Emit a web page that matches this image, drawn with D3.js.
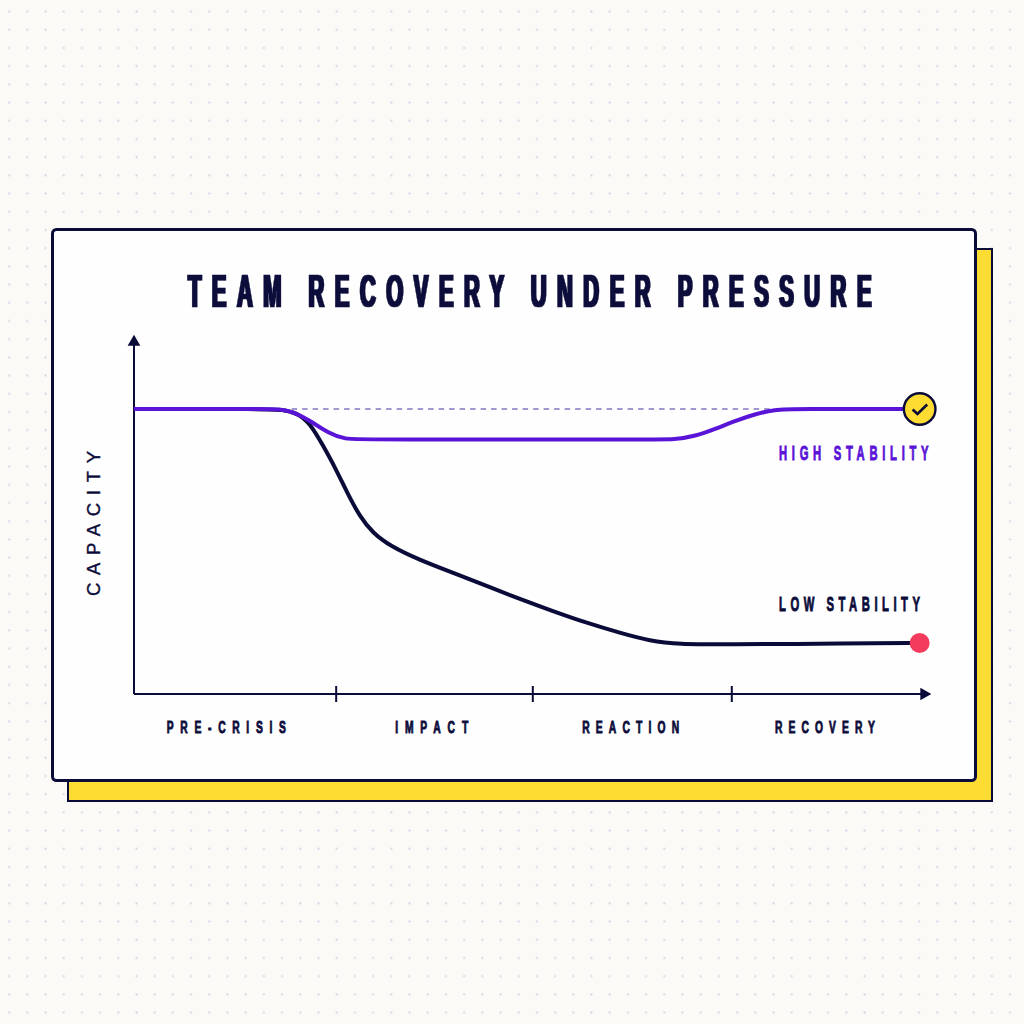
<!DOCTYPE html>
<html>
<head>
<meta charset="utf-8">
<script src="https://cdn.jsdelivr.net/npm/d3@7"></script>
<style>
html,body{margin:0;padding:0;background:#fbfaf7;}
svg{display:block;}
</style>
</head>
<body>
<svg id="chart" width="1024" height="1024"></svg>
<script>
// Capacity over the four crisis phases, on a 0-100 scale for both axes.
const titleText = "TEAM RECOVERY UNDER PRESSURE";
const yAxisLabel = "CAPACITY";
const phaseLabels = ["PRE-CRISIS", "IMPACT", "REACTION", "RECOVERY"];
const phaseMidpoints = [11.6, 37.4, 62.4, 86.8];
const phaseTicks = [25.4, 50.1, 75.1];
const baselineValue = 100;

const lowTime = [0, 16.5, 18.6, 20.5, 22.1, 23.7, 25.3, 26.8, 28.4, 30, 32.2, 35.9, 40.1, 44.3, 48.5, 52.6, 56.9, 61.1, 64.8, 68.6, 73.6, 90, 98.7];
const lowCapacity = [100, 100, 99.8, 98.6, 95.1, 87.4, 79.3, 70.5, 62.1, 56.5, 51.9, 47, 42.5, 37.9, 33.3, 29.1, 24.9, 21.4, 18.6, 17.5, 17.4, 17.7, 17.9];
const highTime = [0, 16.1, 18.3, 20.2, 22.4, 24.4, 26.5, 29, 64.8, 68, 70.5, 73, 75.5, 78, 80.5, 83, 98.7];
const highCapacity = [100, 100, 100, 98.9, 95.4, 91.6, 89.3, 89.3, 89.3, 89.3, 90.5, 93, 95.8, 98.2, 99.8, 100, 100];

const NAVY = "#0b0b3a", PURPLE = "#5a14d8", YELLOW = "#ffdc32", RED = "#f43b5e";
const CONDENSED = "'Liberation Sans Narrow','Liberation Sans',sans-serif";

const svg = d3.select("#chart");
const defs = svg.append("defs");

// Dotted paper background
const pattern = defs.append("pattern").attr("id", "paper-dots")
  .attr("patternUnits", "userSpaceOnUse")
  .attr("x", 0).attr("y", 2.5).attr("width", 18.2).attr("height", 18.2);
pattern.append("circle").attr("cx", 9.1).attr("cy", 9.1).attr("r", 1.1).attr("fill", "#d4d4e6");
svg.append("rect").attr("width", 1024).attr("height", 1024).attr("fill", "#fbfaf7");
svg.append("rect").attr("width", 1024).attr("height", 1024).attr("fill", "url(#paper-dots)");

// Horizontal-only thickening for the heavy display lettering
defs.append("filter").attr("id", "widen")
  .attr("x", "-2%").attr("y", "-5%").attr("width", "104%").attr("height", "110%")
  .append("feMorphology").attr("operator", "dilate").attr("radius", "1 0");

// Offset yellow shadow and white card
svg.append("rect").attr("x", 68).attr("y", 249).attr("width", 924).attr("height", 552)
  .attr("fill", YELLOW).attr("stroke", NAVY).attr("stroke-width", 2);
svg.append("rect").attr("x", 52.5).attr("y", 229.5).attr("width", 923).attr("height", 551).attr("rx", 4)
  .attr("fill", "#fefefe").attr("stroke", NAVY).attr("stroke-width", 3);

const x = d3.scaleLinear().domain([0, 100]).range([134, 930]);
const y = d3.scaleLinear().domain([0, 100]).range([694, 409]);

// Condensed label squeezed horizontally and stretched to a given pixel span
function squeezed(parent, text, left, right, capTop, capBottom, color, squeeze, extra) {
  const size = (capBottom - capTop - extra) / 0.729;
  return parent.append("text")
    .attr("transform", `translate(${left},${capBottom - extra / 2}) scale(${squeeze},1)`)
    .attr("font-family", CONDENSED).attr("font-weight", 700)
    .attr("font-size", size).attr("fill", color)
    .attr("stroke", color).attr("stroke-width", extra)
    .attr("textLength", (right - left) / squeeze).attr("lengthAdjust", "spacing")
    .text(text);
}

const titleGroup = svg.append("g").attr("filter", "url(#widen)");
squeezed(titleGroup, titleText, 188, 871.5, 272.5, 307, NAVY, 0.47, 0.6);

// Axes
const xAxis = d3.axisBottom(x).offset(0).tickValues(phaseTicks).tickFormat("").tickSize(8).tickSizeOuter(0);
const xg = svg.append("g").attr("transform", `translate(0,${y(0)})`).call(xAxis);
xg.select(".domain").attr("stroke", NAVY).attr("stroke-width", 2);
xg.selectAll(".tick line").attr("stroke", NAVY).attr("stroke-width", 2).attr("y1", -8);

const yAxis = d3.axisLeft(y.copy().domain([0, 125.6]).range([694, 340])).offset(0).tickValues([]).tickSizeOuter(0);
const yg = svg.append("g").attr("transform", `translate(${x(0)},0)`).call(yAxis);
yg.select(".domain").attr("stroke", NAVY).attr("stroke-width", 2);

const arrow = d3.symbol().type(d3.symbolTriangle).size(70);
svg.append("path").attr("d", arrow()).attr("fill", NAVY)
  .attr("transform", `translate(${x(0)},${y(0) - 352})`);
svg.append("path").attr("d", arrow()).attr("fill", NAVY)
  .attr("transform", `translate(${x(100) - 6},${y(0)}) rotate(90)`);

// Pre-crisis capacity reference
svg.append("line")
  .attr("x1", x(19.8)).attr("x2", x(80.5))
  .attr("y1", y(baselineValue)).attr("y2", y(baselineValue))
  .attr("stroke", "#a297d0").attr("stroke-width", 2).attr("stroke-dasharray", "5.5 5");

// Recovery curves
const line = d3.line().x(d => x(d[0])).y(d => y(d[1])).curve(d3.curveBasis);
svg.append("path").datum(d3.zip(lowTime, lowCapacity)).attr("d", line)
  .attr("fill", "none").attr("stroke", NAVY).attr("stroke-width", 4);
svg.append("path").datum(d3.zip(highTime, highCapacity)).attr("d", line)
  .attr("fill", "none").attr("stroke", PURPLE).attr("stroke-width", 4);

// End markers
const endX = x(highTime[highTime.length - 1]);
const endY = y(highCapacity[highCapacity.length - 1]);
svg.append("circle").attr("cx", endX).attr("cy", endY).attr("r", 15.8)
  .attr("fill", YELLOW).attr("stroke", NAVY).attr("stroke-width", 2.4);
svg.append("path")
  .attr("d", d3.line()([[endX - 7, endY + 0.5], [endX - 2.2, endY + 5], [endX + 7.5, endY - 4.5]]))
  .attr("fill", "none").attr("stroke", NAVY).attr("stroke-width", 2.6);
svg.append("circle").attr("cx", x(lowTime[lowTime.length - 1])).attr("cy", y(lowCapacity[lowCapacity.length - 1])).attr("r", 10)
  .attr("fill", RED);

// Series and phase labels
squeezed(svg, "HIGH STABILITY", 779, 928.5, 445, 460, PURPLE, 0.58, 0.9);
squeezed(svg, "LOW STABILITY", 779, 920, 596, 611, NAVY, 0.58, 0.9);

const phaseSpans = [119, 73, 97, 100];
phaseLabels.forEach((label, i) => {
  const c = x(phaseMidpoints[i]);
  squeezed(svg, label, c - phaseSpans[i] / 2, c + phaseSpans[i] / 2, 720, 733, NAVY, 0.62, 0.9);
});

svg.append("text")
  .attr("transform", "translate(100,596) rotate(-90)")
  .attr("font-family", "'Liberation Sans',sans-serif").attr("font-size", 18.5)
  .attr("fill", NAVY).attr("stroke", NAVY).attr("stroke-width", 0.4)
  .attr("textLength", 145).attr("lengthAdjust", "spacing")
  .text(yAxisLabel);
</script>
</body>
</html>
